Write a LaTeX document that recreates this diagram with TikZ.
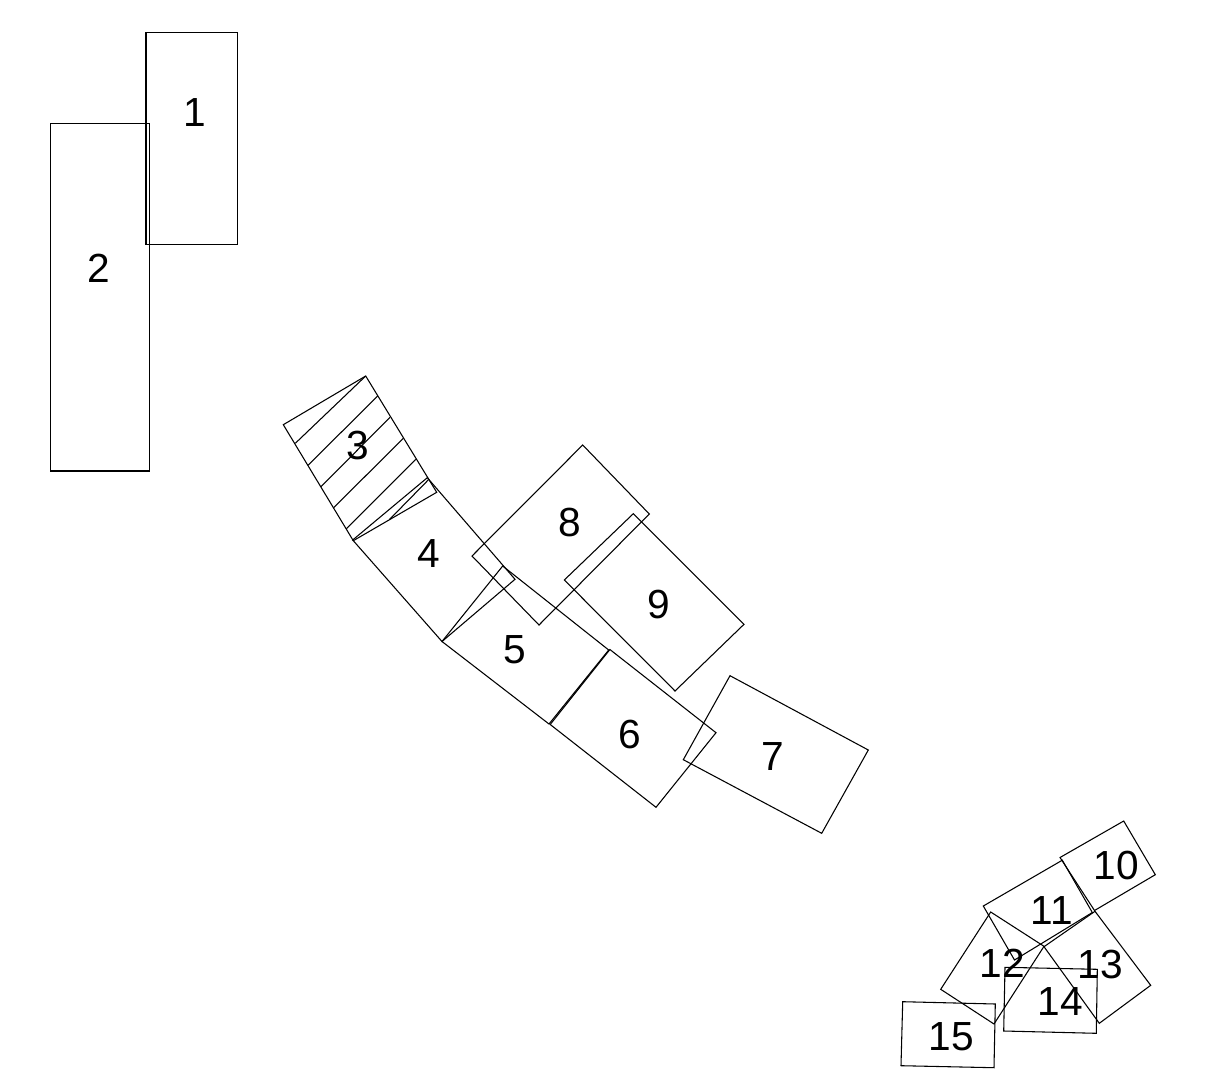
\documentclass[tikz,border=0pt]{standalone}
\usepackage{fontspec}
\setmainfont{Liberation Sans}
\tikzset{
  plate/.style={draw=black,line width=0.8pt,line join=miter},
  num/.style={inner sep=0pt,font=\fontsize{30.5}{36}\selectfont},
}
\begin{document}
\begin{tikzpicture}[x=0.75pt,y=-0.75pt]
\useasboundingbox (0,0) rectangle (1217,1074);
% long strips
\draw[plate] (146,32.7)--(237.7,32.7)--(237.7,244.3)--(146,244.3)--cycle;
\draw[plate] (50.7,123.3)--(149.7,123.3)--(149.7,471)--(50.7,471)--cycle;
% middle chain
\draw[plate] (365.7,376)--(283.3,424.7)--(353.3,540.7)--(436.7,492.3)--cycle;
\draw[plate] (365.7,376)--(295.3,443.3);
\draw[plate] (377.7,396)--(308,465.3);
\draw[plate] (390,417.3)--(321,486.7);
\draw[plate] (403.3,438.3)--(333.7,507.7);
\draw[plate] (415.7,459.3)--(346.3,528.7);
\draw[plate] (428.5,479.7)--(389.3,519.7);
\draw[plate] (352.7,540)--(442,641.5)--(515,579.3)--(427.3,477.7)--cycle;
\draw[plate] (442,641.5)--(502.7,566)--(608.7,650)--(549,724)--cycle;
\draw[plate] (609.9,649.5)--(716,732.7)--(656,807.3)--(550.2,724.5)--cycle;
\draw[plate] (730,675.7)--(683.3,759.7)--(821.7,833.3)--(868.3,750)--cycle;
\draw[plate] (582.7,445)--(472,556)--(539,625)--(649.3,514)--cycle;
\draw[plate] (633.3,513.7)--(564.3,580)--(675,691)--(744,624.3)--cycle;
% lower right cluster
\draw[plate] (1123.7,821)--(1060,857.5)--(1094.5,910.5)--(1155.3,874.7)--cycle;
\draw[plate] (983.3,906)--(1062.3,860.2)--(1092.3,912.5)--(1014.5,960)--cycle;
\draw[plate] (990.7,912)--(940.7,989.3)--(994,1024)--(1044,946.3)--cycle;
\draw[plate] (1095,911.3)--(1044,946.7)--(1099.3,1023.3)--(1150.7,985.3)--cycle;
\draw[plate] (1005,967.3)--(1097.3,969.3)--(1096.3,1033.3)--(1003.7,1031)--cycle;
\draw[plate] (902.7,1001.7)--(995.3,1004)--(994,1067.7)--(901,1065.7)--cycle;
% numbers
\node[num] (n1) at (194.5,113) {1};
\node[num] (n2) at (98.5,268) {2};
\node[num] (n3) at (357.5,445) {3};
\node[num] (n4) at (428.5,554) {4};
\node[num] (n5) at (514.5,650) {5};
\node[num] (n6) at (629.5,734) {6};
\node[num] (n7) at (772.5,757) {7};
\node[num] (n8) at (569.5,522) {8};
\node[num] (n9) at (658.5,604) {9};
\node[num] (n10) at (1116.5,865.5) {10};
\node[num] (n11) at (1051.5,911) {11};
\node[num] (n12) at (1002.5,963) {12};
\node[num] (n13) at (1100.5,964) {13};
\node[num] (n14) at (1060.5,1001) {14};
\node[num] (n15) at (951.5,1037) {15};
\end{tikzpicture}
\end{document}
